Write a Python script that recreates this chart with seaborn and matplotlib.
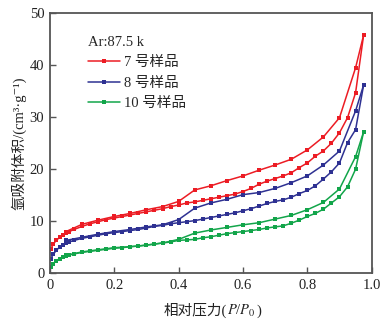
import numpy as np
import pandas as pd
import matplotlib
matplotlib.use("Agg")
import matplotlib.pyplot as plt
import seaborn as sns
from matplotlib.offsetbox import TextArea, HPacker, AnchoredOffsetbox

# ---- data ----
ads_x = [0.003, 0.01, 0.02, 0.03, 0.04, 0.05, 0.06, 0.075, 0.1, 0.125, 0.15, 0.175,
         0.2, 0.225, 0.25, 0.275, 0.3, 0.325, 0.35, 0.375, 0.4, 0.425, 0.45, 0.475,
         0.5, 0.525, 0.55, 0.575, 0.6, 0.625, 0.65, 0.675, 0.7, 0.725, 0.75, 0.775,
         0.8, 0.825, 0.85, 0.875, 0.9, 0.925, 0.95, 0.975]
des_x = [0.975, 0.95, 0.9, 0.85, 0.8, 0.75, 0.7, 0.65, 0.6, 0.55, 0.5, 0.45,
         0.4, 0.35, 0.3, 0.25, 0.2, 0.15, 0.1, 0.05]

s7_ads = [4.6, 5.6, 6.3, 6.9, 7.3, 7.7, 8.0, 8.4, 9.0, 9.5, 9.9, 10.3,
          10.6, 10.9, 11.2, 11.5, 11.8, 12.1, 12.4, 12.8, 13.1, 13.5, 13.7, 14.0,
          14.3, 14.6, 14.9, 15.2, 15.7, 16.3, 17.1, 17.7, 18.2, 18.7, 19.3, 20.3,
          21.2, 22.5, 23.5, 25.0, 27.0, 29.9, 34.7, 45.8]
s7_des = [45.8, 39.5, 29.9, 26.2, 23.7, 21.9, 20.8, 19.8, 18.7, 17.8, 16.8, 16.0,
          13.8, 12.8, 12.2, 11.5, 10.9, 10.2, 9.4, 8.0]

s8_ads = [2.8, 3.6, 4.4, 5.0, 5.4, 5.8, 6.0, 6.3, 6.7, 7.0, 7.3, 7.6,
          7.8, 8.0, 8.2, 8.4, 8.7, 9.0, 9.2, 9.5, 9.7, 9.9, 10.1, 10.4,
          10.7, 11.0, 11.3, 11.6, 12.0, 12.4, 12.9, 13.4, 13.8, 14.1, 14.6, 15.3,
          15.9, 16.8, 18.1, 19.5, 21.2, 25.1, 27.6, 36.2]
s8_des = [36.2, 31.2, 23.5, 20.8, 18.7, 17.4, 16.3, 15.5, 15.1, 14.2, 13.5, 12.5,
          10.3, 9.3, 8.9, 8.4, 8.0, 7.5, 6.9, 6.3]

s10_ads = [1.2, 1.8, 2.4, 2.8, 3.1, 3.3, 3.5, 3.7, 4.0, 4.2, 4.4, 4.6,
           4.8, 4.9, 5.1, 5.2, 5.4, 5.6, 5.8, 6.0, 6.3, 6.4, 6.5, 6.8,
           7.0, 7.3, 7.6, 7.8, 8.0, 8.2, 8.4, 8.7, 8.9, 9.1, 9.6, 10.2,
           10.9, 11.5, 12.3, 13.5, 14.7, 16.6, 20.0, 27.2]
s10_des = [27.2, 22.4, 16.2, 13.6, 12.2, 11.1, 10.4, 9.7, 9.3, 8.8, 8.3, 7.7,
           6.5, 5.8, 5.4, 5.1, 4.9, 4.5, 4.1, 3.4]

samples = ["7 号样品", "8 号样品", "10 号样品"]
colors = ["#ec1c24", "#2e3192", "#12a54a"]
ads_vals = [s7_ads, s8_ads, s10_ads]
des_vals = [s7_des, s8_des, s10_des]

xticks = [0, 0.2, 0.4, 0.6, 0.8, 1.0]
xticklabels = ["0", "0.2", "0.4", "0.6", "0.8", "1.0"]
yticks = [0, 10, 20, 30, 40, 50]

# ---- plot ----
sns.set_theme(style="ticks")
FAM = ["Liberation Serif", "Noto Sans CJK SC", "DejaVu Serif"]
plt.rcParams["font.family"] = FAM
plt.rcParams["mathtext.fontset"] = "stix"

fig = plt.figure(figsize=(3.9, 3.21), dpi=100)
ax = fig.add_axes([0.128, 0.149, 0.825, 0.81])

for name, c, a, d in zip(samples, colors, ads_vals, des_vals):
    sns.lineplot(x=ads_x, y=a, ax=ax, color=c, marker="s", markersize=3.2,
                 markeredgewidth=0, linewidth=1.1, sort=False, estimator=None,
                 label=name)
    sns.lineplot(x=des_x, y=d, ax=ax, color=c, marker="s", markersize=3.2,
                 markeredgewidth=0, linewidth=1.1, sort=False, estimator=None)

ax.set_xlim(0, 1.0)
ax.set_ylim(0, 50)
ax.set_xticks(xticks)
ax.set_xticklabels(xticklabels)
ax.set_yticks(yticks)
ax.tick_params(direction="in", length=4, width=1, colors="#555555",
               labelcolor="#222222", labelsize=10.5, pad=4)
for s in ax.spines.values():
    s.set_color("#555555")
    s.set_linewidth(1.3)
ax.set_xlabel("")

# x label composed of CJK text + italic math
tp = dict(fontsize=10.5, color="#222222", family=FAM)
parts = [TextArea("相对压力(", textprops=tp),
         TextArea("$P$/$P_0$", textprops=dict(fontsize=10.5, color="#222222")),
         TextArea(")", textprops=tp)]
box = HPacker(children=parts, align="baseline", pad=0, sep=0)
anch = AnchoredOffsetbox(loc="upper center", child=box, frameon=False,
                         bbox_to_anchor=(0.505, -0.115), bbox_transform=ax.transAxes,
                         borderpad=0, pad=0)
ax.add_artist(anch)

ax.set_ylabel("氩吸附体积/(cm³·g⁻¹)", fontsize=10.5, color="#222222", labelpad=2)

leg = ax.legend(title="Ar:87.5 k", loc="upper left", bbox_to_anchor=(0.1, 0.935),
                frameon=False, fontsize=10.5, title_fontsize=10.5,
                handlelength=2.2, handletextpad=0.3, labelspacing=0.5,
                alignment="left", borderaxespad=0)

fig.savefig("out.png", dpi=100)
